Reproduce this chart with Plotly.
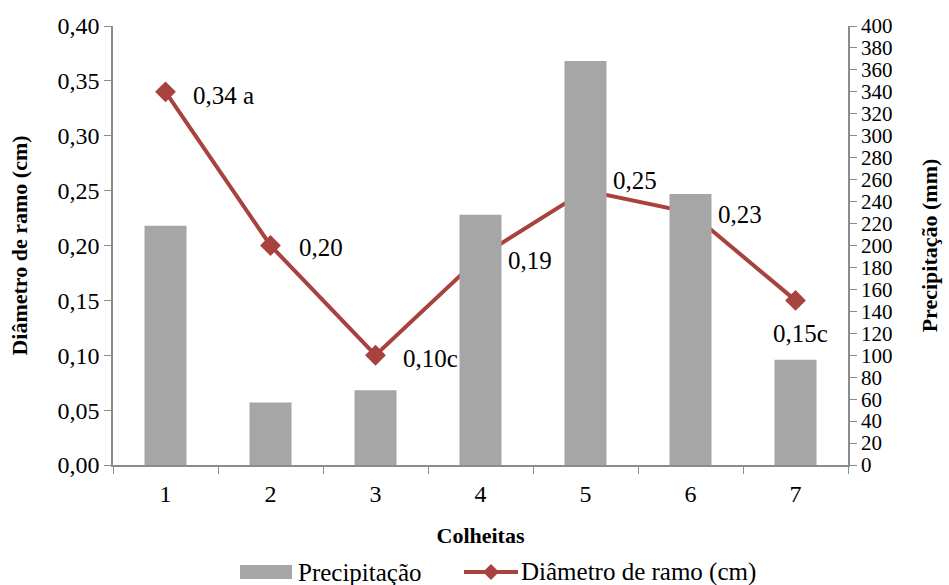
import plotly.graph_objects as go

# Harvest data: rainfall (bars, right axis) and branch diameter (line, left axis)
colheitas = ["1", "2", "3", "4", "5", "6", "7"]
precipitacao = [218, 57, 68, 228, 368, 247, 96]
diametro = [0.34, 0.20, 0.10, 0.19, 0.25, 0.23, 0.15]
rotulos = ["0,34 a", "0,20", "0,10c", "0,19", "0,25", "0,23", "0,15c"]
# label placement around each marker (anchor, dx, dy in pixels)
posicoes = [("right", 25, -4), ("right", 26, -2), ("right", 25, -3), ("right", 25, -4),
            ("right", 25, 10), ("right", 25, -2), ("center", 5, -33)]

left_ticks = [i * 0.05 for i in range(9)]
left_labels = [f"{v:.2f}".replace(".", ",") for v in left_ticks]
right_ticks = list(range(0, 401, 20))

nome_barras = "Precipitação"
nome_linha = "Diâmetro de ramo (cm)"

FONT = "Times New Roman, Liberation Serif, serif"
BAR = "#a6a6a6"
LINE = "#a8423f"
AXIS = "#8c8c8c"

W, H = 949, 585
ML, MR, MT, MB = 113, 101, 26, 120
PW, PH = W - ML - MR, H - MT - MB


def px(x):
    return (x - ML) / PW


def py(y):
    return (H - MB - y) / PH


fig = go.Figure()
fig.add_trace(go.Bar(
    x=colheitas, y=precipitacao, name=nome_barras, yaxis="y2",
    marker=dict(color=BAR, line=dict(width=0)), width=0.4, showlegend=False,
))
fig.add_trace(go.Scatter(
    x=colheitas, y=diametro, name=nome_linha, yaxis="y",
    mode="lines+markers",
    line=dict(color=LINE, width=4),
    marker=dict(symbol="diamond", size=16, color=LINE),
    showlegend=False,
))

for i, (v, t, (anchor, dx, dy)) in enumerate(zip(diametro, rotulos, posicoes)):
    fig.add_annotation(
        x=i, y=v, xref="x", yref="y", text=t, showarrow=False,
        xanchor="left" if anchor == "right" else "center", yanchor="middle",
        xshift=dx, yshift=dy, font=dict(family=FONT, size=25, color="black"),
    )

# Legend drawn below the axis title
ly = 572
fig.add_shape(type="rect", xref="paper", yref="paper",
              x0=px(240), x1=px(292), y0=py(579), y1=py(565),
              fillcolor=BAR, line=dict(width=0))
fig.add_annotation(x=px(296), y=py(ly), xref="paper", yref="paper", text=nome_barras,
                   showarrow=False, xanchor="left", yanchor="middle",
                   font=dict(family=FONT, size=25, color="black"))
fig.add_shape(type="line", xref="paper", yref="paper",
              x0=px(464), x1=px(518), y0=py(ly), y1=py(ly),
              line=dict(color=LINE, width=4))
d = 8
fig.add_shape(type="path", xref="paper", yref="paper",
              path=(f"M {px(491 - d)} {py(ly)} L {px(491)} {py(ly - d)} "
                    f"L {px(491 + d)} {py(ly)} L {px(491)} {py(ly + d)} Z"),
              fillcolor=LINE, line=dict(width=0))
fig.add_annotation(x=px(519), y=py(ly), xref="paper", yref="paper", text=nome_linha,
                   showarrow=False, xanchor="left", yanchor="middle",
                   font=dict(family=FONT, size=25, color="black"))

fig.update_layout(
    width=W, height=H,
    margin=dict(l=ML, r=MR, t=MT, b=MB),
    paper_bgcolor="white", plot_bgcolor="white",
    font=dict(family=FONT, size=22, color="black"),
    showlegend=False,
    xaxis=dict(
        type="category", range=[-0.5, 6.5], automargin=False,
        showline=True, linecolor=AXIS, linewidth=1.5,
        ticks="outside", tickson="boundaries", tickcolor=AXIS, ticklen=7,
        ticklabelstandoff=6,
        showgrid=False, tickfont=dict(family=FONT, size=24),
        title=dict(text="<b>Colheitas</b>", font=dict(family=FONT, size=22), standoff=22),
    ),
    yaxis=dict(
        range=[0, 0.40], tickvals=left_ticks, ticktext=left_labels, automargin=False,
        showline=True, linecolor=AXIS, linewidth=1.5, ticks="outside",
        tickcolor=AXIS, ticklen=7, showgrid=False, zeroline=False,
        tickfont=dict(family=FONT, size=24),
        title=dict(text="<b>Diâmetro de ramo (cm)</b>", font=dict(family=FONT, size=22), standoff=24),
    ),
    yaxis2=dict(
        range=[0, 400], tickvals=right_ticks, overlaying="y", side="right", automargin=False,
        showline=True, linecolor=AXIS, linewidth=1.5, ticks="outside",
        tickcolor=AXIS, ticklen=7, showgrid=False, zeroline=False,
        tickfont=dict(family=FONT, size=21),
        title=dict(text="<b>Precipitação (mm)</b>", font=dict(family=FONT, size=22), standoff=30),
    ),
)

fig.write_html("out.html")
